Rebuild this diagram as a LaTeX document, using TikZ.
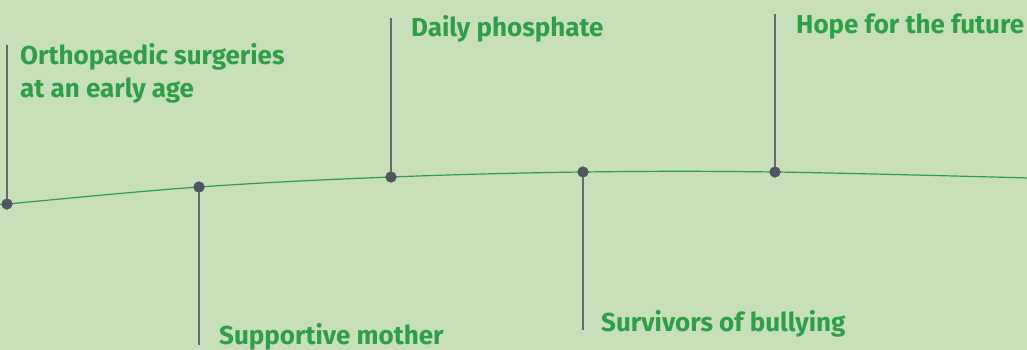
\documentclass[tikz,border=0pt]{standalone}
\usepackage{fontspec}
\setmainfont{Fira Sans}
\definecolor{bg}{HTML}{C8E0B9}
\definecolor{tgreen}{HTML}{2E9E48}
\definecolor{lgray}{HTML}{646B70}
\definecolor{dgray}{HTML}{50555F}
\begin{document}
\begin{tikzpicture}[x=1pt,y=-1pt,
  lbl/.style={anchor=base west,inner sep=0pt,text=tgreen,font=\fontsize{26}{33}\selectfont\bfseries,align=left},
  stem/.style={draw=lgray,line width=2pt},
  dot/.style={circle,fill=dgray,inner sep=0pt,minimum size=11pt}]
\fill[bg] (0,0) rectangle (1027,350);
\useasboundingbox (0,0) rectangle (1027,350);
\draw[tgreen,line width=1.2pt] plot[smooth,tension=0.6] coordinates {(-2,205) (7,204) (199,187) (391,177) (583,172) (775,172) (1029,178)};
\coordinate (t1) at (7,45);
\coordinate (t2) at (199,345);
\coordinate (t3) at (391,18);
\coordinate (t4) at (583,330);
\coordinate (t5) at (775,14);
\node[dot] (d1) at (7,204) {};
\node[dot] (d2) at (199,187) {};
\node[dot] (d3) at (391,177) {};
\node[dot] (d4) at (583,172) {};
\node[dot] (d5) at (775,172) {};
\draw[stem] (d1.center) -- (t1);
\draw[stem] (d2.center) -- (t2);
\draw[stem] (d3.center) -- (t3);
\draw[stem] (d4.center) -- (t4);
\draw[stem] (d5.center) -- (t5);
\node[dot] at (d1) {};
\node[dot] at (d2) {};
\node[dot] at (d3) {};
\node[dot] at (d4) {};
\node[dot] at (d5) {};
\node[lbl] (l1) at (20,98) {Orthopaedic surgeries\\at an early age};
\node[lbl] (l3) at (411,37) {Daily phosphate};
\node[lbl] (l5) at (796,34) {Hope for the future};
\node[lbl] (l2) at (219,344) {Supportive mother};
\node[lbl] (l4) at (601,331) {Survivors of bullying};
\end{tikzpicture}
\end{document}
